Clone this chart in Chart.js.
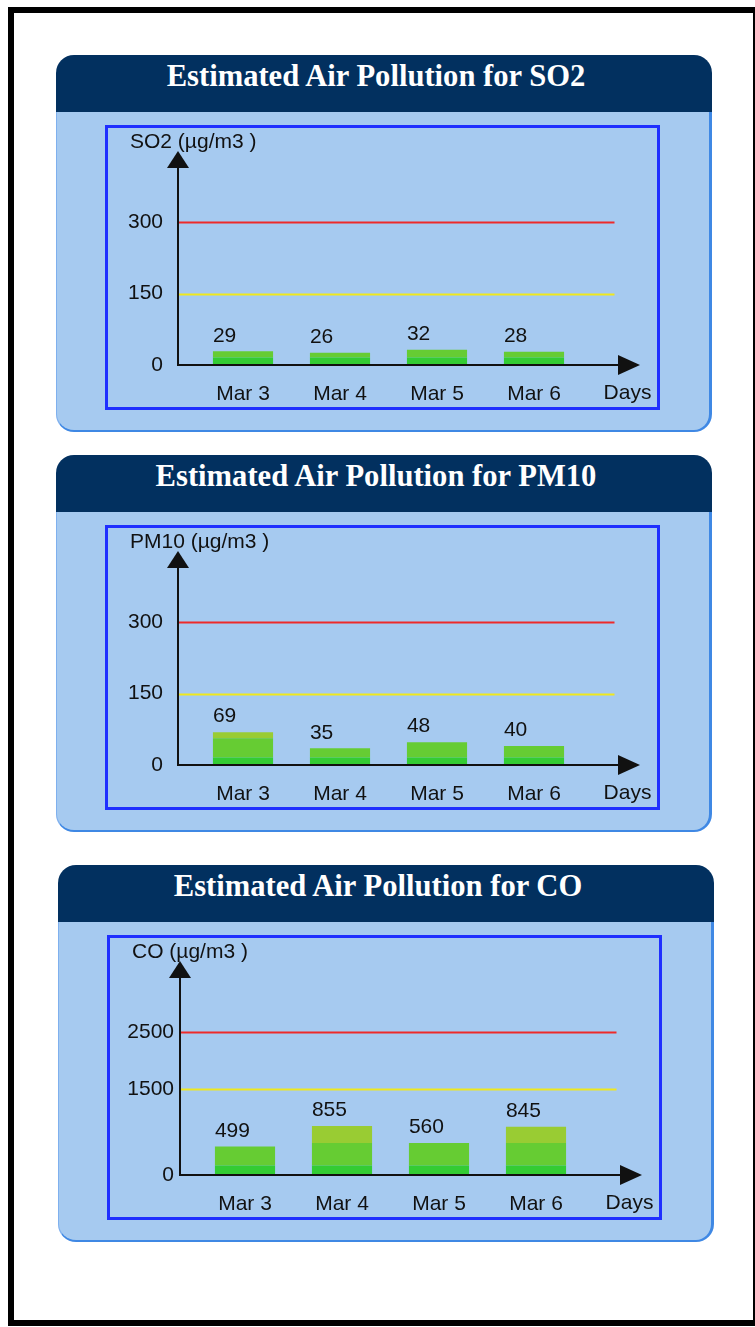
<!DOCTYPE html>
<html lang="en">
<head>
  <meta charset="UTF-8">
  <title>Estimated Air Pollution</title>
  <script src="https://cdn.jsdelivr.net/npm/chart.js"></script>
  <style>
    body { margin: 0; width: 755px; height: 1327px; overflow: hidden; background: #fff; position: relative; }
    .frame { position: absolute; left: 8px; top: 7px; width: 751px; height: 1319px; box-sizing: border-box; border: 6px solid #000; }
    .panel { position: absolute; width: 656px; height: 377px; }
    .panel-head {
      height: 57px; background: #02305f; border-radius: 18px 18px 0 0;
      color: #fff; font: bold 30.6px "Liberation Serif", "Times New Roman", serif;
      line-height: 30px; text-align: center; box-sizing: border-box; padding: 6px 16px 0 0;
    }
    .panel-body {
      position: absolute; left: 0; top: 57px; width: 656px; height: 320px; box-sizing: border-box;
      background: #a6caf0; border-left: 1px solid #7fb0ee; border-right: 3px solid #3f88e4;
      border-bottom: 2px solid #3f88e4; border-radius: 0 0 18px 18px;
    }
    .box { position: absolute; left: 49px; top: 70px; width: 555px; height: 285px; box-sizing: border-box; border: 3px solid #1f2fff; }
    .panel canvas { position: absolute; left: 49px; top: 70px; }
  </style>
</head>
<body>
  <div class="frame"></div>

  <div class="panel" style="left:56px; top:55px;">
    <div class="panel-head">Estimated Air Pollution for SO2</div>
    <div class="panel-body"></div>
    <div class="box"></div>
    <canvas id="graficoSO2" width="555" height="285"></canvas>
  </div>

  <div class="panel" style="left:56px; top:455px;">
    <div class="panel-head">Estimated Air Pollution for PM10</div>
    <div class="panel-body"></div>
    <div class="box"></div>
    <canvas id="graficoPM10" width="555" height="285"></canvas>
  </div>

  <div class="panel" style="left:58px; top:865px;">
    <div class="panel-head">Estimated Air Pollution for CO</div>
    <div class="panel-body"></div>
    <div class="box"></div>
    <canvas id="graficoCO" width="555" height="285"></canvas>
  </div>

  <script>
    const days = ['Mar 3', 'Mar 4', 'Mar 5', 'Mar 6'];

    const so2Values = [29, 26, 32, 28];
    const pm10Values = [69, 35, 48, 40];
    const coValues = [499, 855, 560, 845];

    // tick marks: 0, warning level (yellow), alert level (red)
    const so2Ticks = [0, 150, 300];
    const pm10Ticks = [0, 150, 300];
    const coTicks = [0, 1500, 2500];

    // where the bar colour changes (dark green -> green -> yellow green)
    const so2Bands = [16, 56];
    const pm10Bands = [16, 56];
    const coBands = [165, 560];

    const FONT = '"Liberation Sans", Arial, sans-serif';
    const INK = '#111';

    function criarGrafico(id, unidade, valores, ticks, faixas, yMax, tickPad) {
      const ctx = document.getElementById(id).getContext('2d');

      const eixos = {
        id: 'eixos',
        beforeDatasetsDraw(chart) {
          const { ctx, chartArea: a, scales: { y } } = chart;
          const x0 = a.left - 16.5;
          ctx.save();
          ctx.lineWidth = 2;
          [['#f0e81c', ticks[1]], ['#ee2a2a', ticks[2]]].forEach(([cor, v]) => {
            const py = Math.round(y.getPixelForValue(v)) + 0.5;
            ctx.strokeStyle = cor;
            ctx.beginPath();
            ctx.moveTo(x0, py);
            ctx.lineTo(a.right + 32, py);
            ctx.stroke();
          });
          ctx.restore();
        },
        afterDatasetsDraw(chart) {
          const { ctx, chartArea: a, scales: { y } } = chart;
          const x0 = a.left - 16.5;
          const base = a.bottom;
          const fim = a.right + 57.5;
          ctx.save();
          ctx.strokeStyle = INK;
          ctx.fillStyle = INK;
          ctx.lineWidth = 2;
          ctx.beginPath();
          ctx.moveTo(x0, a.top + 10);
          ctx.lineTo(x0, base);
          ctx.lineTo(fim - 10, base);
          ctx.stroke();
          // pontas das setas
          ctx.beginPath();
          ctx.moveTo(x0, a.top);
          ctx.lineTo(x0 - 11, a.top + 17);
          ctx.lineTo(x0 + 11, a.top + 17);
          ctx.closePath();
          ctx.fill();
          ctx.beginPath();
          ctx.moveTo(fim, base);
          ctx.lineTo(fim - 22, base - 10);
          ctx.lineTo(fim - 22, base + 10);
          ctx.closePath();
          ctx.fill();

          ctx.font = '21px ' + FONT;
          ctx.textBaseline = 'middle';
          ctx.textAlign = 'left';
          ctx.fillText(unidade, 25, 17);
          ctx.textAlign = 'center';
          ctx.fillText('Days', a.right + 45, 268);

          // valores acima das barras
          ctx.textAlign = 'left';
          const meta = chart.getDatasetMeta(0);
          valores.forEach((v, i) => {
            const bar = meta.data[i];
            const left = bar.x - bar.width / 2;
            ctx.fillText(String(v), left, y.getPixelForValue(v) - 15.5);
          });
          ctx.restore();
        }
      };

      return new Chart(ctx, {
        type: 'bar',
        data: {
          labels: days,
          datasets: [
            { data: valores.map(v => Math.min(v, faixas[0])), backgroundColor: '#33cc33' },
            { data: valores.map(v => Math.max(0, Math.min(v, faixas[1]) - faixas[0])), backgroundColor: '#66cc33' },
            { data: valores.map(v => Math.max(0, v - faixas[1])), backgroundColor: '#99cc33' }
          ]
        },
        options: {
          responsive: false,
          animation: false,
          barPercentage: 0.62,
          categoryPercentage: 1,
          layout: { padding: { left: 0, right: 77.5, top: 26, bottom: 0 } },
          plugins: { legend: { display: false }, tooltip: { enabled: false } },
          scales: {
            x: {
              stacked: true,
              offset: true,
              grid: { display: false, drawTicks: false },
              border: { display: false },
              ticks: { color: INK, font: { family: FONT, size: 21 }, padding: 17, maxRotation: 0 },
              afterFit: s => { s.height = 45; s.paddingLeft = 0; s.paddingRight = 0; }
            },
            y: {
              stacked: true,
              min: 0,
              max: yMax,
              grid: { display: false, drawTicks: false },
              border: { display: false },
              ticks: { color: INK, font: { family: FONT, size: 21 }, padding: tickPad, callback: v => String(v) },
              afterBuildTicks: s => { s.ticks = ticks.map(v => ({ value: v })); },
              afterFit: s => { s.width = 89.5; s.paddingTop = 0; s.paddingBottom = 0; }
            }
          }
        },
        plugins: [eixos]
      });
    }

    criarGrafico('graficoSO2', 'SO2 (µg/m3 )', so2Values, so2Ticks, so2Bands, 450, 31.5);
    criarGrafico('graficoPM10', 'PM10 (µg/m3 )', pm10Values, pm10Ticks, pm10Bands, 450, 31.5);
    criarGrafico('graficoCO', 'CO (µg/m3 )', coValues, coTicks, coBands, 3740, 22.5);
  </script>
</body>
</html>
